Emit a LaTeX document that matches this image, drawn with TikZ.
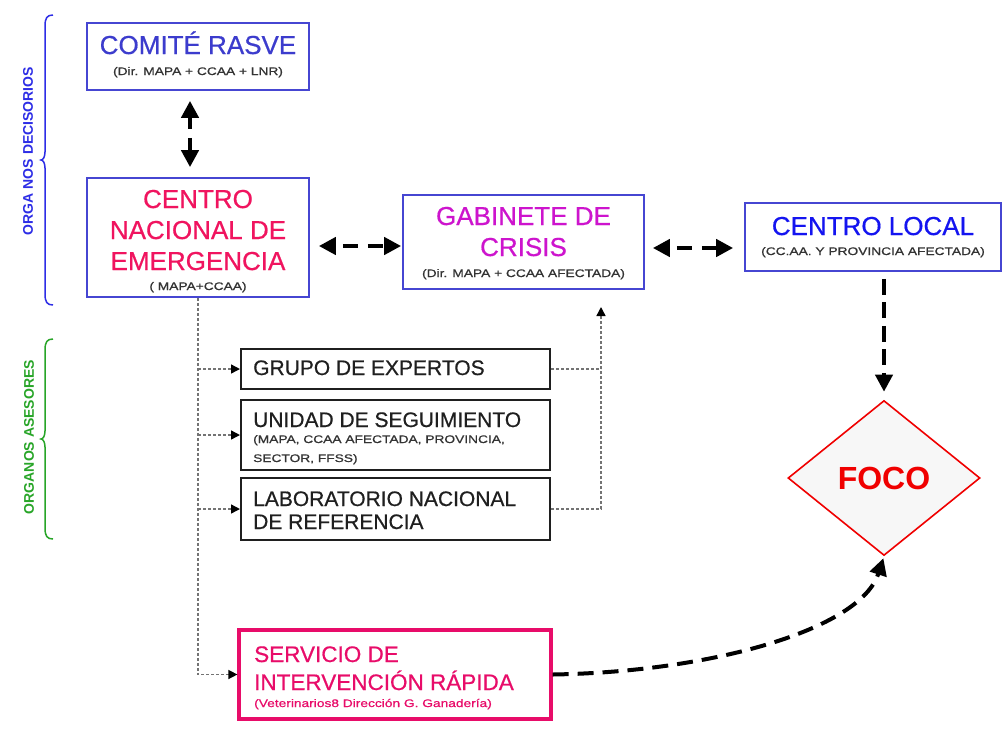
\documentclass[tikz,border=0pt]{standalone}
\usepackage{fontspec}
\setmainfont{Liberation Sans}
\newfontfamily\titlef[FakeBold=0.6]{Liberation Sans}
\newfontfamily\smallf[FakeStretch=1.25,FakeBold=0.7]{Liberation Sans}
\usetikzlibrary{arrows.meta,shapes.geometric}
\definecolor{boxblue}{RGB}{70,70,210}
\definecolor{comiteblue}{RGB}{60,60,205}
\definecolor{localblue}{RGB}{20,20,240}
\definecolor{cnered}{RGB}{240,20,95}
\definecolor{gabmag}{RGB}{205,20,205}
\definecolor{sirpink}{RGB}{232,12,105}
\definecolor{focored}{RGB}{240,0,0}
\definecolor{braceblue}{RGB}{45,45,230}
\definecolor{bracegreen}{RGB}{40,165,40}
\begin{document}
\begin{tikzpicture}[x=1pt,y=-1pt,
  bigtitle/.style={font=\titlef\fontsize{26}{31}\selectfont, anchor=base, inner sep=0pt},
  blacktitle/.style={font=\titlef\fontsize{21}{25}\selectfont, anchor=base west, inner sep=0pt, text=black!88},
  sirtitle/.style={font=\titlef\fontsize{22.5}{27}\selectfont, anchor=base west, inner sep=0pt, text=sirpink},
  sub/.style={font=\smallf\fontsize{11}{13}\selectfont, anchor=base, inner sep=0pt, text=black!80},
  subwest/.style={sub, anchor=base west},
  bluebox/.style={draw=boxblue, line width=1.7pt, rectangle, inner sep=0pt},
  blackbox/.style={draw=black!88, line width=2pt, rectangle, inner sep=0pt},
  sirbox/.style={draw=sirpink, line width=3.2pt, rectangle, inner sep=0pt},
  bigarrow/.style={line width=4.5pt, black, {Triangle[length=17pt,width=17pt]}-{Triangle[length=17pt,width=17pt]}},
  onearrow/.style={line width=4pt, black, -{Triangle[length=17pt,width=17pt]}},
  thinline/.style={draw=black!55, line width=1.4pt, dash pattern=on 3pt off 2pt},
  thinarrow/.style={thinline, -{Triangle[length=9pt,width=9pt,color=black]}},
  sidelabel/.style={rotate=90, font=\bfseries\fontsize{14}{16}\selectfont, inner sep=0pt}
]
\fill[white] (0,0) rectangle (1004,729);
\useasboundingbox (0,0) rectangle (1004,729);

% boxes
\node[bluebox, minimum width=222pt, minimum height=67pt] (comite) at (198,56.5) {};
\node[bluebox, minimum width=222pt, minimum height=119pt] (cne) at (198,237.5) {};
\node[bluebox, minimum width=241pt, minimum height=94pt] (gab) at (523.5,242) {};
\node[bluebox, minimum width=256pt, minimum height=68pt] (cl) at (873,237) {};
\node[blackbox, minimum width=309pt, minimum height=40pt] (grupo) at (395.5,369) {};
\node[blackbox, minimum width=309pt, minimum height=70pt] (unidad) at (395.5,435) {};
\node[blackbox, minimum width=309pt, minimum height=62pt] (lab) at (395.5,509) {};
\node[sirbox, minimum width=312pt, minimum height=89pt] (sir) at (395,674.5) {};
\node[diamond, draw=focored, line width=1.6pt, fill=black!3, minimum width=192pt, minimum height=155pt, inner sep=0pt, font=\bfseries\fontsize{32}{36}\selectfont, text=focored] (foco) at (884,478) {FOCO};

% texts
\node[bigtitle, text=comiteblue] (comiteT) at (198,54) {COMITÉ RASVE};
\node[sub] (comiteS) at (198,75) {(Dir. MAPA + CCAA + LNR)};
\node[bigtitle, text=cnered] (cneT1) at (198,208) {CENTRO};
\node[bigtitle, text=cnered] (cneT2) at (198,239) {NACIONAL DE};
\node[bigtitle, text=cnered] (cneT3) at (198,270) {EMERGENCIA};
\node[sub] (cneS) at (198,290) {( MAPA+CCAA)};
\node[bigtitle, text=gabmag] (gabT1) at (523.5,225) {GABINETE DE};
\node[bigtitle, text=gabmag] (gabT2) at (523.5,256) {CRISIS};
\node[sub] (gabS) at (523.5,277) {(Dir. MAPA + CCAA AFECTADA)};
\node[bigtitle, text=localblue] (clT) at (873,235) {CENTRO LOCAL};
\node[sub] (clS) at (873,255) {(CC.AA. Y PROVINCIA AFECTADA)};
\node[blacktitle] (grupoT) at (253,375) {GRUPO DE EXPERTOS};
\node[blacktitle] (unidadT) at (253,427) {UNIDAD DE SEGUIMIENTO};
\node[subwest] (unidadS1) at (253,443) {(MAPA, CCAA AFECTADA, PROVINCIA,};
\node[subwest] (unidadS2) at (253,462) {SECTOR, FFSS)};
\node[blacktitle] (labT1) at (253,506) {LABORATORIO NACIONAL};
\node[blacktitle] (labT2) at (253,529) {DE REFERENCIA};
\node[sirtitle] (sirT1) at (254,662) {SERVICIO DE};
\node[sirtitle] (sirT2) at (254,690) {INTERVENCIÓN RÁPIDA};
\node[subwest, text=sirpink] (sirS) at (254,707) {(Veterinarios8 Dirección G. Ganadería)};

% side labels and braces
\node[sidelabel, text=braceblue] (decT) at (28,151) {ORGA NOS DECISORIOS};
\node[sidelabel, text=bracegreen] (aseT) at (29,437) {ORGANOS ASESORES};
\draw[braceblue, line width=1.5pt] (53,15) .. controls (47,15) and (45,18) .. (45,26) -- (45,152)
  .. controls (45,157) and (43,160) .. (41,160) .. controls (43,160) and (45,163) .. (45,168)
  -- (45,294) .. controls (45,302) and (47,305) .. (53,305);
\draw[bracegreen, line width=1.5pt] (53,339) .. controls (47,339) and (45,342) .. (45,350) -- (45,431)
  .. controls (45,436) and (43,439) .. (41,439) .. controls (43,439) and (45,442) .. (45,447)
  -- (45,528) .. controls (45,536) and (47,539) .. (53,539);

% thick connectors
\draw[bigarrow, dash pattern=on 12pt off 9pt, shorten <=10pt, shorten >=10pt]
  ([xshift=-8pt]comite.south) -- ([xshift=-8pt]cne.north);
\draw[bigarrow, dash pattern=on 15pt off 10pt, dash phase=17pt, shorten <=9pt, shorten >=1pt]
  ([yshift=-8.5pt]cne.east) -- ([yshift=-8.5pt]cne.east -| gab.west);
\draw[bigarrow, dash pattern=on 15pt off 10pt, dash phase=17pt, shorten <=8pt, shorten >=11pt]
  ([yshift=-6pt]gab.east) -- ([yshift=-6pt]gab.east -| cl.west);
\draw[onearrow, dash pattern=on 16pt off 7.5pt, shorten <=7pt, shorten >=8pt]
  ([xshift=11pt]cl.south) -- (foco.north);
\draw[onearrow, dash pattern=on 16pt off 9pt, shorten >=2pt]
  (sir.east) .. controls (710,672) and (860,630) .. (foco.south);

% thin connectors
\coordinate (gabentry) at (601,307);
\draw[thinarrow] (cne.south) -- (cne.south |- sir.west) -- (sir.west);
\draw[thinarrow] (cne.south |- grupo.west) -- (grupo.west);
\draw[thinarrow] (cne.south |- unidad.west) -- (unidad.west);
\draw[thinarrow] (cne.south |- lab.west) -- (lab.west);
\draw[thinline] (grupo.east) -- (grupo.east -| gabentry);
\draw[thinarrow] (lab.east) -- (lab.east -| gabentry) -- (gabentry);
\end{tikzpicture}
\end{document}
